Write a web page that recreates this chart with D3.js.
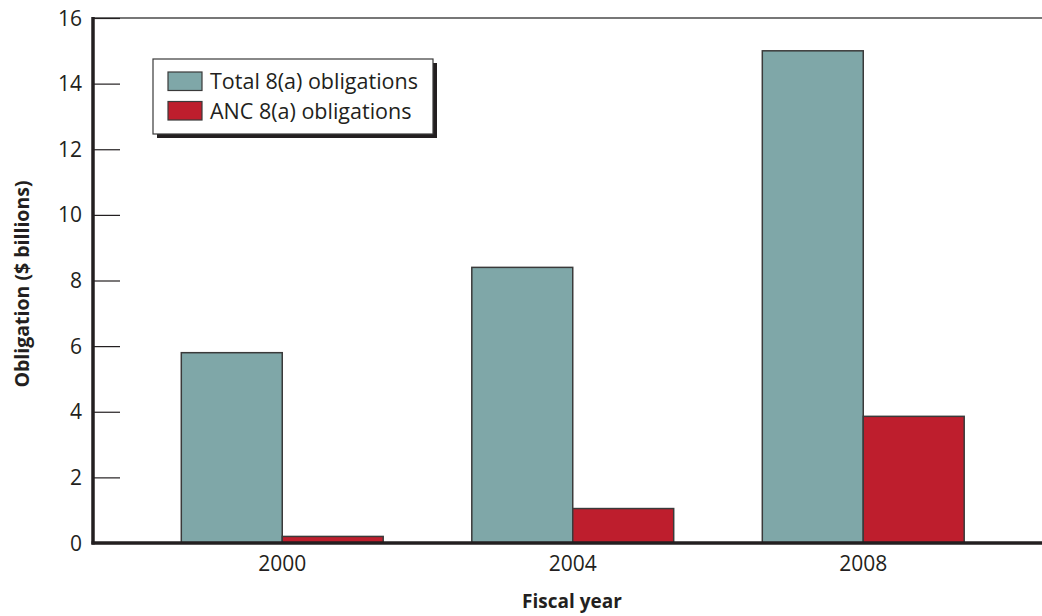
<!DOCTYPE html>
<html>
<head>
<meta charset="utf-8">
<script src="https://cdn.jsdelivr.net/npm/d3@7"></script>
<style>
  html, body { margin: 0; padding: 0; background: #fff; }
  svg { display: block; font-family: "Open Sans", "Noto Sans", sans-serif; }
</style>
</head>
<body>
<svg id="chart" width="1042" height="616"></svg>
<script>
// Fiscal years and obligation amounts ($ billions)
const years = ["2000", "2004", "2008"];
const totalObligations = [5.8, 8.4, 15.0];
const ancObligations = [0.2, 1.05, 3.86];
const seriesNames = ["Total 8(a) obligations", "ANC 8(a) obligations"];
const seriesColors = ["#7fa7a8", "#be1e2d"];
const yTicks = [0, 2, 4, 6, 8, 10, 12, 14, 16];

const svg = d3.select("#chart");
const W = 1042, H = 616;
const plot = { left: 93, top: 18, bottom: 543 };
const ink = "#231f20";

const x0 = d3.scaleBand()
  .domain(years)
  .range([137, 1008.5])
  .paddingInner(0.305)
  .paddingOuter(0.1525);

const x1 = d3.scaleBand()
  .domain(seriesNames)
  .range([0, x0.bandwidth()])
  .padding(0);

const y = d3.scaleLinear().domain([0, 16]).range([plot.bottom, plot.top]);

const rows = years.map((yr, i) => ({
  year: yr,
  values: [
    { name: seriesNames[0], value: totalObligations[i], color: seriesColors[0] },
    { name: seriesNames[1], value: ancObligations[i], color: seriesColors[1] }
  ]
}));

// Top frame line
svg.append("line")
  .attr("x1", plot.left).attr("x2", W)
  .attr("y1", plot.top).attr("y2", plot.top)
  .attr("stroke", "#4a4a4a").attr("stroke-width", 1.5);

// Bars
const groups = svg.append("g").selectAll("g")
  .data(rows).join("g")
  .attr("transform", d => `translate(${x0(d.year)},0)`);

groups.selectAll("rect")
  .data(d => d.values).join("rect")
  .attr("x", d => x1(d.name))
  .attr("y", d => y(d.value))
  .attr("width", x1.bandwidth())
  .attr("height", d => y(0) - y(d.value))
  .attr("fill", d => d.color)
  .attr("stroke", "#3a3a3a")
  .attr("stroke-width", 1.5);

// Y axis with inward ticks
const yAxis = d3.axisRight(y)
  .tickValues(yTicks)
  .tickSize(27)
  .tickFormat("");
const yg = svg.append("g").attr("transform", `translate(${plot.left},0)`).call(yAxis);
yg.select(".domain").remove();
yg.selectAll(".tick line").attr("stroke", ink).attr("stroke-width", 1.2);

svg.append("g").selectAll("text")
  .data(yTicks).join("text")
  .attr("x", 82)
  .attr("y", d => y(d))
  .attr("dy", "0.36em")
  .attr("text-anchor", "end")
  .attr("font-size", 21)
  .attr("fill", ink)
  .text(d => d);

// X axis labels
const xAxis = d3.axisBottom(x0).tickSize(0).tickPadding(13);
const xg = svg.append("g").attr("transform", `translate(0,${plot.bottom})`).call(xAxis);
xg.select(".domain").remove();
xg.selectAll(".tick text")
  .attr("font-size", 21)
  .attr("font-family", "\"Open Sans\", \"Noto Sans\", sans-serif")
  .attr("fill", ink);

// Axis lines
svg.append("line")
  .attr("x1", plot.left).attr("x2", plot.left)
  .attr("y1", plot.top - 1).attr("y2", plot.bottom + 1.5)
  .attr("stroke", ink).attr("stroke-width", 3.5);
svg.append("line")
  .attr("x1", plot.left - 1.5).attr("x2", W)
  .attr("y1", plot.bottom).attr("y2", plot.bottom)
  .attr("stroke", ink).attr("stroke-width", 3.5);

// Axis titles
svg.append("text")
  .attr("x", 572).attr("y", 608)
  .attr("text-anchor", "middle")
  .attr("font-size", 19).attr("font-weight", "bold")
  .attr("fill", ink)
  .text("Fiscal year");

svg.append("text")
  .attr("transform", "translate(29,284) rotate(-90)")
  .attr("text-anchor", "middle")
  .attr("font-size", 19.5).attr("font-weight", "bold")
  .attr("fill", ink)
  .text("Obligation ($ billions)");

// Legend with drop shadow
const lg = svg.append("g").attr("transform", "translate(153,59)");
lg.append("rect")
  .attr("x", 4).attr("y", 4).attr("width", 280).attr("height", 75)
  .attr("fill", "#231f20");
lg.append("rect")
  .attr("x", 0).attr("y", 0).attr("width", 280).attr("height", 75)
  .attr("fill", "#fff").attr("stroke", "#3a3a3a").attr("stroke-width", 1.2);

const items = lg.selectAll("g.item")
  .data(seriesNames.map((n, i) => ({ name: n, color: seriesColors[i] })))
  .join("g").attr("class", "item")
  .attr("transform", (d, i) => `translate(15,${13 + i * 29.5})`);
items.append("rect")
  .attr("width", 34).attr("height", 18.5)
  .attr("fill", d => d.color)
  .attr("stroke", "#3a3a3a").attr("stroke-width", 1.2);
items.append("text")
  .attr("x", 42).attr("y", 9.5)
  .attr("dy", "0.36em")
  .attr("font-size", 21.5)
  .attr("fill", ink)
  .text(d => d.name);
</script>
</body>
</html>
